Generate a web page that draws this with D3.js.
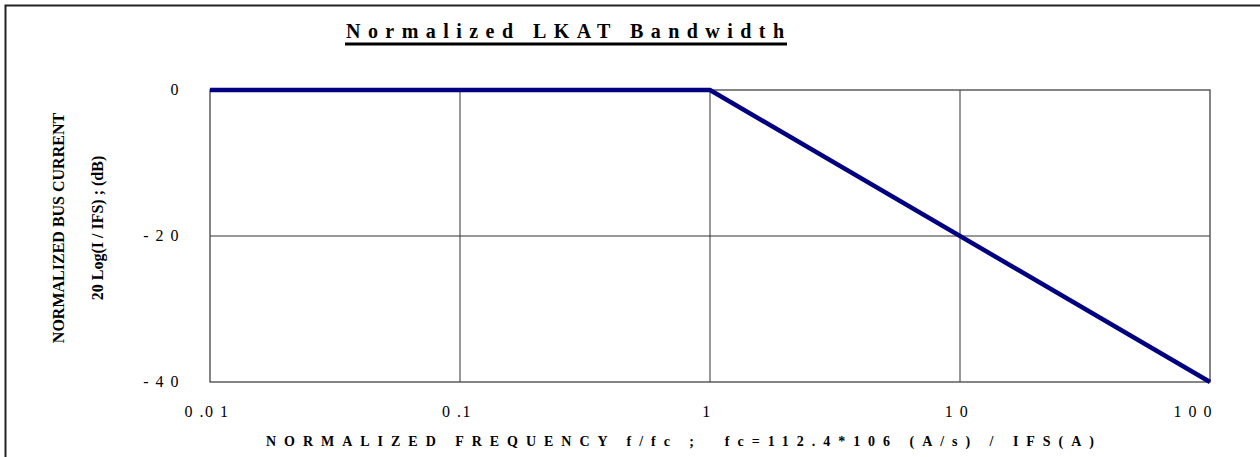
<!DOCTYPE html>
<html>
<head>
<meta charset="utf-8">
<script src="https://cdn.jsdelivr.net/npm/d3@7/dist/d3.min.js"></script>
<style>
  body { margin: 0; background: #fff; }
  text { font-family: "Liberation Serif", "Times New Roman", serif; }
</style>
</head>
<body>
<div id="chart"></div>
<script>
// Data
const freq = [0.01, 1, 100];
const gainDb = [0, 0, -40];
const xTicks = [0.01, 0.1, 1, 10, 100];
const xTickLabels = ["0 .0 1", "0 .1", "1", "1 0", "1 0 0"];
const yTicks = [0, -20, -40];
const yTickLabels = ["0", "- 2 0", "- 4 0"];

const W = 1260, H = 457;
const margin = { top: 90, right: 50, bottom: 75, left: 210 };
const innerW = W - margin.left - margin.right;
const innerH = H - margin.top - margin.bottom;

const svg = d3.select("#chart").append("svg")
  .attr("width", W)
  .attr("height", H);

// outer frame (only left and top visible)
svg.append("path")
  .attr("d", `M5.5,${H} L5.5,5.5 L${W},5.5`)
  .attr("fill", "none")
  .attr("stroke", "#222")
  .attr("stroke-width", 2);

const chart = svg.append("g")
  .attr("transform", `translate(${margin.left},${margin.top})`);

const x = d3.scaleLog().domain([0.01, 100]).range([0, innerW]);
const y = d3.scaleLinear().domain([-40, 0]).range([innerH, 0]);

// Grid lines
chart.selectAll(".vgrid")
  .data(xTicks.slice(1, -1))
  .enter()
  .append("line")
  .attr("x1", d => x(d)).attr("x2", d => x(d))
  .attr("y1", 0).attr("y2", innerH)
  .attr("stroke", "#333").attr("stroke-width", 1);

chart.selectAll(".hgrid")
  .data(yTicks.slice(1, -1))
  .enter()
  .append("line")
  .attr("x1", 0).attr("x2", innerW)
  .attr("y1", d => y(d)).attr("y2", d => y(d))
  .attr("stroke", "#333").attr("stroke-width", 1);

// Plot frame
chart.append("rect")
  .attr("x", 0).attr("y", 0)
  .attr("width", innerW).attr("height", innerH)
  .attr("fill", "none")
  .attr("stroke", "#444")
  .attr("stroke-width", 1.3);

// Y tick labels
chart.selectAll(".ylab")
  .data(yTicks)
  .enter()
  .append("text")
  .attr("xml:space", "preserve")
  .attr("x", -30)
  .attr("y", d => y(d) + 5)
  .attr("text-anchor", "end")
  .style("font-size", "16px")
  .style("letter-spacing", "1.5px")
  .text((d, i) => yTickLabels[i]);

// X tick labels (last one kept inside the plot's right edge)
chart.selectAll(".xlab")
  .data(xTicks)
  .enter()
  .append("text")
  .attr("xml:space", "preserve")
  .attr("x", (d, i) => i === xTicks.length - 1 ? x(d) + 3 : x(d) - 3)
  .attr("y", innerH + 35)
  .attr("text-anchor", (d, i) => i === xTicks.length - 1 ? "end" : "middle")
  .style("font-size", "16px")
  .style("letter-spacing", "1.5px")
  .text((d, i) => xTickLabels[i]);

// Data line
const line = d3.line()
  .x((d, i) => x(freq[i]))
  .y(d => y(d));

chart.append("path")
  .datum(gainDb)
  .attr("d", line)
  .attr("fill", "none")
  .attr("stroke", "#000080")
  .attr("stroke-width", 4.5);

// Title
svg.append("text")
  .attr("x", 346)
  .attr("y", 38)
  .attr("textLength", 438)
  .attr("lengthAdjust", "spacing")
  .style("font-size", "20px")
  .style("font-weight", "bold")
  .text("Normalized LKAT Bandwidth");

svg.append("line")
  .attr("x1", 345).attr("x2", 787)
  .attr("y1", 44).attr("y2", 44)
  .attr("stroke", "#000").attr("stroke-width", 3);

// X axis title
svg.append("text")
  .attr("xml:space", "preserve")
  .attr("x", 266)
  .attr("y", 446)
  .attr("textLength", 828)
  .attr("lengthAdjust", "spacing")
  .style("font-size", "14px")
  .style("font-weight", "bold")
  .text("NORMALIZED FREQUENCY f/fc ;  fc=112.4*106 (A/s) / IFS(A)");

// Y axis titles
svg.append("text")
  .attr("transform", "translate(64,228) rotate(-90)")
  .attr("text-anchor", "middle")
  .style("font-size", "16px")
  .style("font-weight", "bold")
  .text("NORMALIZED BUS CURRENT");

svg.append("text")
  .attr("transform", "translate(103,228) rotate(-90)")
  .attr("text-anchor", "middle")
  .style("font-size", "16px")
  .style("font-weight", "bold")
  .text("20 Log(I / IFS) ; (dB)");
</script>
</body>
</html>
